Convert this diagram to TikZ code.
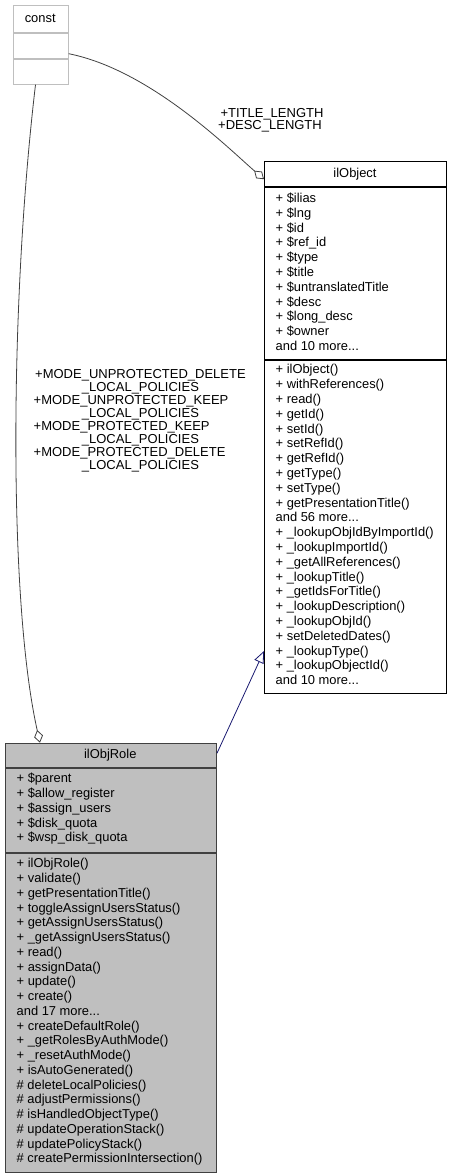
\documentclass[tikz,border=0pt]{standalone}
\usepackage{fontspec}
\setmainfont{Liberation Sans}
\usetikzlibrary{arrows.meta}
\definecolor{navyline}{HTML}{191970}
\definecolor{boxgray}{HTML}{BFBFBF}
\definecolor{edgegray}{HTML}{404040}
\newcommand\mydots{...}
\begin{document}
\begin{tikzpicture}[x=1pt,y=-1pt,
  constpart/.style={draw=boxgray, fill=white, line width=1pt, inner sep=0, anchor=north west, minimum width=55pt},
  objpart/.style={draw=black, fill=white, line width=1pt, inner sep=0, anchor=north west, minimum width=182pt},
  rolepart/.style={draw=edgegray, fill=boxgray, line width=1pt, inner sep=0, anchor=north west, minimum width=211.3pt},
  clstitle/.style={font=\fontsize{12.9}{14.8}\selectfont, inner sep=0, anchor=base},
  member/.style={font=\fontsize{12.9}{14.8}\selectfont, inner sep=0, anchor=base west},
  edgelabel/.style={font=\fontsize{13}{13}\selectfont, inner sep=0, anchor=base west},
  edgelabelc/.style={font=\fontsize{13}{13}\selectfont, inner sep=0, anchor=base},
  aggr/.style={draw=edgegray, line width=0.8pt, {Diamond[open,length=13pt,width=9pt]}-},
  inherit/.style={draw=navyline, line width=0.8pt, -{Triangle[open,length=12pt,width=10pt]}}
]
\useasboundingbox (0,0) rectangle (453,1176);

% ---- const ----
\node[constpart, minimum height=26.7pt] (cT) at (12.7,5) {};
\node[constpart, minimum height=25pt] (cA) at (cT.south west) {};
\node[constpart, minimum height=25pt] (cM) at (cA.south west) {};
\node[clstitle] (cN) at (40.2,22.8) {const};

% ---- ilObject ----
\node[objpart, minimum height=25.3pt] (oT) at (264,160.7) {};
\node[objpart, minimum height=172pt] (oA) at (oT.south west) {};
\node[objpart, minimum height=333pt] (oM) at (oA.south west) {};
\node[clstitle] (oN) at (355,177.5) {ilObject};
\foreach [count=\i from 0] \t in {%
  + \$ilias, + \$lng, + \$id, + \$ref\_id, + \$type, + \$title,
  + \$untranslatedTitle, + \$desc, + \$long\_desc, + \$owner, and 10 more\mydots}
  \node[member] (oa\i) at (275.5,{202.5+14.8*\i}) {\t};
\foreach [count=\i from 0] \t in {%
  + ilObject(), + withReferences(), + read(), + getId(), + setId(),
  + setRefId(), + getRefId(), + getType(), + setType(),
  + getPresentationTitle(), and 56 more\mydots,
  + \_lookupObjIdByImportId(), + \_lookupImportId(), + \_getAllReferences(),
  + \_lookupTitle(), + \_getIdsForTitle(), + \_lookupDescription(),
  + \_lookupObjId(), + setDeletedDates(), + \_lookupType(),
  + \_lookupObjectId(), and 10 more\mydots}
  \node[member] (om\i) at (275.5,{373.8+14.8*\i}) {\t};

% ---- ilObjRole ----
\node[rolepart, minimum height=24pt] (rT) at (4.7,742.7) {};
\node[rolepart, minimum height=84.3pt] (rA) at (rT.south west) {};
\node[rolepart, minimum height=319pt] (rM) at (rA.south west) {};
\node[clstitle] (rN) at (110.3,758.3) {ilObjRole};
\foreach [count=\i from 0] \t in {%
  + \$parent, + \$allow\_register, + \$assign\_users, + \$disk\_quota,
  + \$wsp\_disk\_quota}
  \node[member] (ra\i) at (16.5,{782.8+14.75*\i}) {\t};
\foreach [count=\i from 0] \t in {%
  + ilObjRole(), + validate(), + getPresentationTitle(),
  + toggleAssignUsersStatus(), + getAssignUsersStatus(),
  + \_getAssignUsersStatus(), + read(), + assignData(), + update(),
  + create(), and 17 more\mydots, + createDefaultRole(),
  + \_getRolesByAuthMode(), + \_resetAuthMode(), + isAutoGenerated(),
  \# deleteLocalPolicies(), \# adjustPermissions(),
  \# isHandledObjectType(), \# updateOperationStack(),
  \# updatePolicyStack(), \# createPermissionIntersection()}
  \node[member] (rm\i) at (16.5,{867.8+14.75*\i}) {\t};

% ---- connectors ----
\draw[aggr] ([yshift=-18.5pt]oT.north west) .. controls (228,148) and (150,70) .. ([yshift=-8pt]cA.east);
\draw[aggr] ([xshift=35.3pt]rT.north west) .. controls (8,600) and (10,300) .. ([xshift=-5.2pt]cM.south);
\draw[inherit] ([yshift=-10.5pt]rT.north east) -- ([yshift=-291pt]oM.north west);

% ---- edge labels ----
\node[edgelabelc] (tl1) at (272,117.4) {+TITLE\_LENGTH};
\node[edgelabelc] (tl2) at (270,129.7) {+DESC\_LENGTH};

\node[edgelabel] (ml1) at (35,378.2) {+MODE\_UNPROTECTED\_DELETE};
\node[edgelabel] (ml2) at (81.7,391.3) {\_LOCAL\_POLICIES};
\node[edgelabel] (ml3) at (33.5,404.3) {+MODE\_UNPROTECTED\_KEEP};
\node[edgelabel] (ml4) at (81.7,417.4) {\_LOCAL\_POLICIES};
\node[edgelabel] (ml5) at (33.5,430.4) {+MODE\_PROTECTED\_KEEP};
\node[edgelabel] (ml6) at (81.7,443.5) {\_LOCAL\_POLICIES};
\node[edgelabel] (ml7) at (33.5,456.5) {+MODE\_PROTECTED\_DELETE};
\node[edgelabel] (ml8) at (81.7,469.6) {\_LOCAL\_POLICIES};
\end{tikzpicture}
\end{document}
